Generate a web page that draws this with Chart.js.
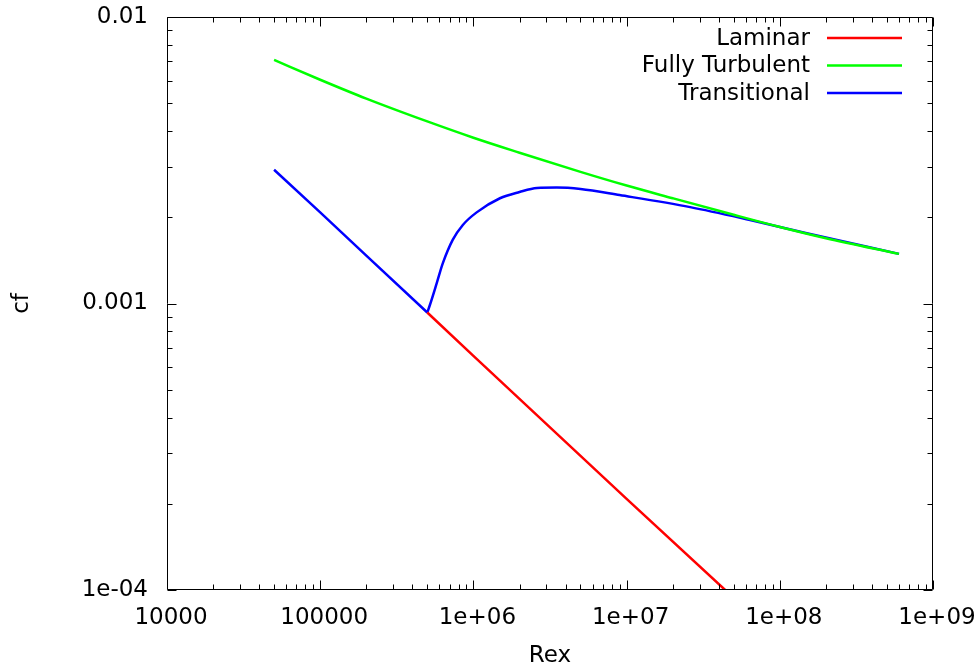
<!DOCTYPE html>
<html><head><meta charset="utf-8">
<script src="https://cdn.jsdelivr.net/npm/chart.js@4"></script>
<style>html,body{margin:0;padding:0;background:#fff}canvas{display:block}</style>
</head><body>
<canvas id="c" width="979" height="672"></canvas>
<script>
// ---- data ----
const seriesNames = ['Laminar', 'Fully Turbulent', 'Transitional'];
const seriesColors = ['#ff0000', '#00ff00', '#0000ff'];

const laminarRe = [5e5, 1e6, 1e7, 4.4e7];
const laminarCf = [0.00093, 0.000656, 0.000208, 0.0001];

const turbulentRe = [5e4, 1e5, 2e5, 5e5, 1e6, 2e6, 5e6, 1e7, 2e7, 5e7, 1e8, 2e8, 6e8];
const turbulentCf = [0.00708, 0.00604, 0.00519, 0.00432, 0.00379, 0.00336, 0.00288, 0.00258, 0.00233, 0.00204, 0.00185, 0.00169, 0.00149];

// Transitional: laminar part up to transition, then the rise towards the turbulent curve
const transitionalLamRe = [5e4, 1e5, 2e5, 5e5];
const transitionalLamCf = [0.00293, 0.00208, 0.00147, 0.00093];
const transitionalTurbRe = [5e5, 5.2e5, 5.77e5, 6.31e5, 7.34e5, 8.53e5, 1.05e6, 1.49e6, 2.0e6, 2.6e6, 3.5e6, 5e6, 9e6, 2.6e7, 6.4e7, 1.5e8, 6e8];
const transitionalTurbCf = [0.00093, 0.000988, 0.00118, 0.00138, 0.00167, 0.00188, 0.00208, 0.00233, 0.00245, 0.00253, 0.00254, 0.00251, 0.00239, 0.00217, 0.001956, 0.00176, 0.00149];

const xTickValues = [1e4, 1e5, 1e6, 1e7, 1e8, 1e9];
const xTickLabels = ['10000', '100000', '1e+06', '1e+07', '1e+08', '1e+09'];
const yTickValues = [1e-4, 1e-3, 1e-2];
const yTickLabels = ['1e-04', '0.001', '0.01'];
const xTitle = 'Rex';
const yTitle = 'cf';

// ---- build ----
const pts = (xs, ys) => xs.map((x, i) => ({x: x, y: ys[i]}));
const FONT = {family: "'DejaVu Sans', sans-serif", size: 23};

function minorValues(min, max) {
  const out = [];
  for (let d = Math.floor(Math.log10(min)); d < Math.round(Math.log10(max)); d++) {
    for (let m = 2; m <= 9; m++) out.push(m * Math.pow(10, d));
  }
  return out;
}

const framePlugin = {
  id: 'frame',
  afterDatasetsDraw(chart) {
    const ctx = chart.ctx;
    const a = chart.chartArea;
    const xs = chart.scales.x, ys = chart.scales.y;
    const L = Math.round(a.left) + 0.5, R = Math.round(a.right) - 0.5;
    const T = Math.round(a.top) + 0.5, B = Math.round(a.bottom) - 0.5;
    ctx.save();
    ctx.strokeStyle = '#000';
    ctx.lineWidth = 1;
    ctx.beginPath();
    ctx.rect(L, T, R - L, B - T);
    const xt = (v, len) => {
      const p = Math.round(xs.getPixelForValue(v)) + 0.5;
      ctx.moveTo(p, B); ctx.lineTo(p, B - len);
      ctx.moveTo(p, T); ctx.lineTo(p, T + len);
    };
    const yt = (v, len) => {
      const p = Math.round(ys.getPixelForValue(v)) + 0.5;
      ctx.moveTo(L, p); ctx.lineTo(L + len, p);
      ctx.moveTo(R, p); ctx.lineTo(R - len, p);
    };
    xTickValues.forEach(v => xt(v, 9));
    minorValues(xTickValues[0], xTickValues[xTickValues.length - 1]).forEach(v => xt(v, 5));
    yTickValues.forEach(v => yt(v, 9));
    minorValues(yTickValues[0], yTickValues[yTickValues.length - 1]).forEach(v => yt(v, 5));
    ctx.stroke();
    ctx.restore();
  },
  afterDraw(chart) {
    const ctx = chart.ctx;
    const a = chart.chartArea;
    ctx.save();
    ctx.font = FONT.size + 'px ' + FONT.family;
    ctx.textAlign = 'right';
    ctx.textBaseline = 'middle';
    chart.data.datasets.filter(ds => !ds.noLegend).forEach((ds, i) => {
      const y = a.top + 21 + i * 27.5;
      ctx.fillStyle = '#000';
      ctx.fillText(ds.label, a.right - 123, y + 1);
      ctx.strokeStyle = ds.borderColor;
      ctx.lineWidth = 2.5;
      ctx.beginPath();
      ctx.moveTo(a.right - 106, y);
      ctx.lineTo(a.right - 31, y);
      ctx.stroke();
    });
    ctx.restore();
  }
};

const common = {borderWidth: 2.5, pointRadius: 0, tension: 0, fill: false};
const datasets = [
  Object.assign({label: seriesNames[0], data: pts(laminarRe, laminarCf),
    borderColor: seriesColors[0], backgroundColor: seriesColors[0]}, common),
  Object.assign({label: seriesNames[1], data: pts(turbulentRe, turbulentCf),
    borderColor: seriesColors[1], backgroundColor: seriesColors[1]}, common, {cubicInterpolationMode: 'monotone'}),
  Object.assign({label: seriesNames[2], data: pts(transitionalLamRe, transitionalLamCf),
    borderColor: seriesColors[2], backgroundColor: seriesColors[2]}, common),
  Object.assign({label: seriesNames[2], noLegend: true, data: pts(transitionalTurbRe, transitionalTurbCf),
    borderColor: seriesColors[2], backgroundColor: seriesColors[2]}, common, {cubicInterpolationMode: 'monotone'})
];

new Chart(document.getElementById('c'), {
  type: 'line',
  data: {datasets: datasets},
  options: {
    responsive: false,
    animation: false,
    layout: {padding: {top: 17, right: 46, left: 0, bottom: 0}},
    plugins: {legend: {display: false}, tooltip: {enabled: false}},
    scales: {
      x: {
        type: 'logarithmic', position: 'bottom', min: 1e4, max: 1e9,
        grid: {display: false, drawTicks: false},
        border: {display: false},
        ticks: {color: '#000', font: FONT, padding: 14, autoSkip: false, maxRotation: 0, labelOffset: 4,
                callback: (v, i) => xTickLabels[i]},
        title: {display: true, text: xTitle, color: '#000', font: FONT, padding: {top: 0, bottom: 2}},
        afterBuildTicks: s => { s.ticks = xTickValues.map(v => ({value: v})); },
        afterFit: s => { s.height = 82; s.paddingLeft = 0; s.paddingRight = 0; }
      },
      y: {
        type: 'logarithmic', position: 'left', min: 1e-4, max: 1e-2,
        grid: {display: false, drawTicks: false},
        border: {display: false},
        ticks: {color: '#000', font: FONT, padding: 19, autoSkip: false,
                callback: (v, i) => yTickLabels[i]},
        title: {display: true, text: yTitle, color: '#000', font: FONT, padding: {top: 8, bottom: 0}},
        afterBuildTicks: s => { s.ticks = yTickValues.map(v => ({value: v})); },
        afterFit: s => { s.width = 167; s.paddingTop = 0; s.paddingBottom = 0; }
      }
    }
  },
  plugins: [framePlugin]
});
</script>
</body></html>
